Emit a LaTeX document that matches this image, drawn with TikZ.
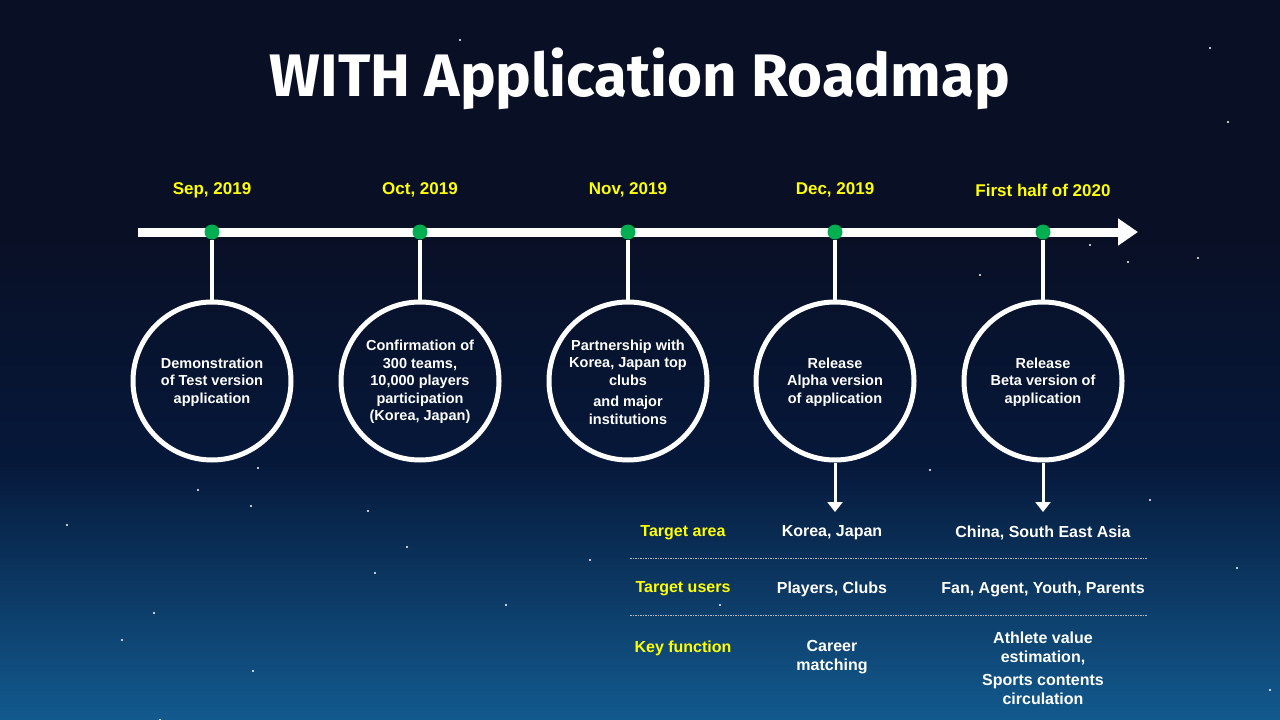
\documentclass[tikz,border=0pt]{standalone}
\usepackage{fontspec}
\setmainfont{Liberation Sans}
\newfontfamily\titlefont{Fira Sans}
\usepackage{xcolor}
\usetikzlibrary{arrows.meta}

\definecolor{ceu1}{HTML}{090F24}
\definecolor{ceu2}{HTML}{06183A}
\definecolor{ceu3}{HTML}{125A8E}
\definecolor{amarelo}{HTML}{FFFF00}
\definecolor{verde}{HTML}{00B050}
\pgfdeclareverticalshading{fundo}{100bp}{color(0bp)=(ceu3); color(25bp)=(ceu3); color(43bp)=(ceu2); color(60bp)=(ceu1); color(100bp)=(ceu1)}

\tikzset{
  linha/.style={white, line width=9pt},
  ponto/.style={circle, fill=verde, inner sep=0pt, minimum size=15pt},
  data/.style={text=amarelo, font=\bfseries\fontsize{17}{20}\selectfont},
  marco/.style={circle, draw=white, line width=5pt, minimum size=158pt, inner sep=0pt},
  rotulo/.style={text=white, align=center, font=\bfseries\fontsize{14.5}{17.5}\selectfont},
  haste/.style={white, line width=3.5pt},
  seta/.style={white, line width=3pt, -{Triangle[length=10pt,width=15pt]}},
  tabela/.style={text=white, align=center, font=\bfseries\fontsize{16}{19}\selectfont},
  campo/.style={tabela, text=amarelo},
  separador/.style={gray!55, line width=0.8pt, dash pattern=on 1.5pt off 1pt}
}

\begin{document}
\begin{tikzpicture}[x=1pt,y=-1pt]
    % Fundo
    \shade[shading=fundo] (0,0) rectangle (1280,720);
    \useasboundingbox (0,0) rectangle (1280,720);
    % Estrelas
    \foreach \sx/\sy in {460/40, 1210/48, 1228/122, 1090/245, 1198/258, 258/468, 198/490, 251/506,
        67/525, 368/511, 407/547, 375/573, 154/613, 122/640, 253/671, 506/605, 930/470, 1150/500,
        1128/262, 1237/568, 1270/690, 720/605, 590/560, 160/720, 980/275}
        \fill[white] (\sx,\sy) circle (1.2pt);
    % Titulo
    \node[text=white, font=\titlefont\bfseries\fontsize{60}{62}\selectfont] (titulo) at (640,79) {WITH Application Roadmap};
    % Linha do tempo
    \coordinate (ini) at (138,232);
    \coordinate (fim) at (1138,232);
    \draw[linha, -{Triangle[length=20pt,width=26pt]}] (ini) -- (fim);
    % Marcos
    \foreach \x/\nome/\data/\texto in {
        212/set/{Sep, 2019}/{Demonstration\\of Test version\\application},
        420/out/{Oct, 2019}/{Confirmation of\\300 teams,\\10,000 players\\participation\\(Korea, Japan)},
        628/nov/{Nov, 2019}/{Partnership with\\Korea, Japan top\\clubs\\[4pt]and major\\institutions},
        835/dez/{Dec, 2019}/{Release\\Alpha version\\of application},
        1043/jan/{First half of 2020}/{Release\\Beta version of\\application}}{
        \node[ponto] (p\nome) at (\x,232) {};
        \node[data] (d\nome) at (\x,190) {\data};
        \node[marco] (c\nome) at (\x,381) {};
        \node[rotulo] (t\nome) at (\x,382) {\texto};
        \draw[haste] (p\nome) -- (c\nome);
    }
    % Setas para a tabela
    \coordinate (a1) at (835,512);
    \coordinate (a2) at (1043,512);
    \draw[seta] (cdez) -- (a1);
    \draw[seta] (cjan) -- (a2);
    % Tabela
    \node[campo] (area) at (683,533) {Target area};
    \node[campo] (usuarios) at (683,589) {Target users};
    \node[campo] (funcao) at (683,648) {Key function};
    \node[tabela] (area2) at (832,533) {Korea, Japan};
    \node[tabela] (usuarios2) at (832,589) {Players, Clubs};
    \node[tabela] (funcao2) at (832,657) {Career\\matching};
    \node[tabela] (area3) at (1043,533) {China, South East Asia};
    \node[tabela] (usuarios3) at (1043,589) {Fan, Agent, Youth, Parents};
    \node[tabela] (funcao3) at (1043,668) {Athlete value\\estimation,\\[4pt]Sports contents\\circulation};
    % Separadores
    \coordinate (s1a) at (630,558);
    \coordinate (s1b) at (1147,558);
    \coordinate (s2a) at (630,615);
    \coordinate (s2b) at (1147,615);
    \draw[separador] (s1a) -- (s1b);
    \draw[separador] (s2a) -- (s2b);
\end{tikzpicture}
\end{document}
